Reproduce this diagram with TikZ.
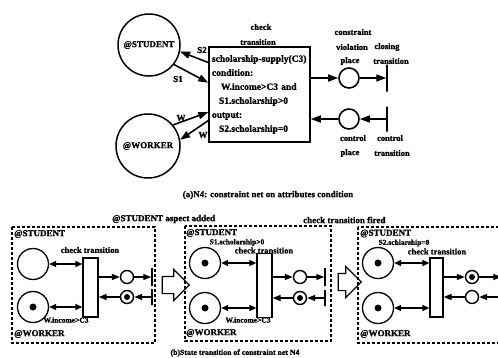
\documentclass[tikz,border=0pt]{standalone}
\usepackage{fontspec}
\setmainfont{Liberation Serif}[BoldFeatures={FakeBold=1.2}]
\usetikzlibrary{shapes,arrows,arrows.meta}

\begin{document}
\begin{tikzpicture}[x=1pt, y=-1pt,
    every node/.style={font=\bfseries},
    netplace/.style={draw, circle, line width=1.5pt, inner sep=0pt},
    bigplace/.style={netplace, minimum size=62pt, font=\bfseries\fontsize{9}{10}\selectfont},
    midplace/.style={netplace, line width=1.3pt, minimum size=31pt},
    smallplace/.style={netplace, line width=1.4pt, minimum size=13pt},
    token/.style={circle, fill=black, minimum size=7pt, inner sep=0pt},
    smalltoken/.style={circle, fill=black, minimum size=6pt, inner sep=0pt},
    trans/.style={draw, rectangle, line width=1.3pt, minimum width=15pt, inner sep=0pt},
    bar/.style={draw, rectangle, line width=1.5pt, minimum width=0pt, inner sep=0pt},
    txt/.style={inner sep=0pt, font=\bfseries\fontsize{8.5}{9}\selectfont},
    smalltxt/.style={inner sep=0pt, font=\bfseries\fontsize{7.5}{8}\selectfont},
    nametxt/.style={inner sep=0pt, anchor=west, font=\bfseries\fontsize{9}{10}\selectfont},
    flow/.style={-{Triangle[length=10pt,width=7pt]}, line width=1.6pt},
    sflow/.style={-{Triangle[length=8pt,width=6pt]}, line width=1.4pt},
    dflow/.style={{Triangle[length=7pt,width=6pt]}-{Triangle[length=7pt,width=6pt]}, line width=1.3pt},
    panel/.style={draw, densely dashed, line width=1.2pt},
    blockarrow/.style={single arrow, draw, line width=1.2pt, inner xsep=0pt, inner ysep=8pt, single arrow head extend=7pt}
]
\useasboundingbox (0,0) rectangle (498,357);
\clip (0,0) rectangle (498,357);

% (a) constraint net
\node[bigplace] (student) at (149,45) {@STUDENT};
\node[bigplace, minimum size=64pt] (worker) at (148,146) {@WORKER};
\node[draw, line width=1.5pt, minimum width=101pt, minimum height=95pt, text width=95pt,
      inner xsep=3pt, align=left, font=\bfseries\fontsize{9.5}{14}\selectfont] (check) at (259.5,94.5)
  {scholarship-supply(C3)\\condition:\\\hspace*{9pt}W.income>C3 and\\\hspace*{7pt}S1.scholarship>0\\output:\\\hspace*{7pt}S2.scholarship=0};
\node[netplace, line width=1.6pt, minimum size=20pt] (viol) at (349,78) {};
\node[netplace, line width=1.6pt, minimum size=20pt] (ctrl) at (349,119) {};
\node[bar, minimum height=27pt] (close) at (387,78) {};
\node[bar, minimum height=25pt] (ctrlt) at (387,119) {};

% labels of (a)
\node[txt] (lblcheck) at (261,27) {check};
\node[txt] (lbltrans) at (258,42) {transition};
\node[txt] (lblcons) at (353,32) {constraint};
\node[txt] (lblviol) at (352,47) {violation};
\node[txt] (lblplace) at (350,61) {place};
\node[txt] (lblclose) at (387,47) {closing};
\node[txt] (lblcloset) at (391,61) {transition};
\node[txt] (lblctrl) at (353,138) {control};
\node[txt] (lblctrlp) at (350,153) {place};
\node[txt] (lblctrlt) at (390,138) {control};
\node[txt] (lblctrltt) at (392,153) {transition};
\node[txt, font=\bfseries\fontsize{9}{10}\selectfont] (lbls2) at (202,50) {S2};
\node[txt, font=\bfseries\fontsize{9}{10}\selectfont] (lbls1) at (178,79) {S1};
\node[txt, font=\bfseries\fontsize{9}{10}\selectfont] (lblw1) at (181,118) {W};
\node[txt, font=\bfseries\fontsize{9}{10}\selectfont] (lblw2) at (203,135) {W};
\node[txt, font=\bfseries\fontsize{9}{10}\selectfont] (capa) at (268,195) {(a)N4: constraint net on attributes condition};

% arcs of (a)
\draw[flow] (check.148) -- (student.-12);
\draw[flow] (student.-38) -- (check.167);
\draw[flow] (worker.40) -- (check.199);
\draw[flow] (check.207) -- (worker.11);
\draw[flow] (check.east |- viol) -- (viol);
\draw[flow] (viol) -- (close);
\draw[flow] (ctrlt) -- (ctrl);
\draw[flow] (ctrl) -- (check.east |- ctrl);

% (b) state transition
\node[nametxt] (lbladded) at (112,219) {@STUDENT aspect added};
\node[nametxt] (lblfired) at (303,220) {check transition fired};
\draw[panel] (12,227) rectangle (155,343);
\draw[panel] (185,226) rectangle (331,341);
\draw[panel] (358,227) rectangle (510,343);
\node[blockarrow, minimum height=27pt] (stepab) at (171.5,285) {};
\node[blockarrow, minimum height=23pt] (stepbc) at (345.5,282) {};

% first state
\node[midplace] (sa) at (33,264) {};
\node[midplace] (wa) at (33,307) {};
\node[token] (wtoka) at (wa) {};
\node[trans, minimum height=59pt] (ta) at (90.5,287.5) {};
\node[smallplace] (va) at (127,277) {};
\node[smallplace] (ca) at (127,297) {};
\node[smalltoken] (ctoka) at (ca) {};
\node[bar, minimum height=18pt] (vba) at (152,277) {};
\node[bar, minimum height=16pt] (cba) at (152,297) {};
\node[nametxt] (stua) at (14,234) {@STUDENT};
\node[nametxt] (wora) at (14,334) {@WORKER};
\node[txt] (chka) at (90,250) {check transition};
\node[smalltxt] (inca) at (66,320) {W.income>C3};
\draw[dflow] (sa) -- (ta.west |- sa);
\draw[dflow] (wa) -- (ta.west |- wa);
\draw[sflow] (ta.east |- va) -- (va);
\draw[sflow] (va) -- (vba);
\draw[sflow] (cba) -- (ca);
\draw[sflow] (ca) -- (ta.east |- ca);

% second state
\node[midplace] (sb) at (205,263) {};
\node[token] (stokb) at (sb) {};
\node[midplace] (wb) at (205,308) {};
\node[token] (wtokb) at (wb) {};
\node[trans, minimum height=64pt] (tb) at (264.5,285.5) {};
\node[smallplace] (vb) at (300,277) {};
\node[smallplace] (cb) at (300,298) {};
\node[smalltoken] (ctokb) at (cb) {};
\node[bar, minimum height=18pt] (vbb) at (325,277) {};
\node[bar, minimum height=16pt] (cbb) at (325,298) {};
\node[nametxt] (stub) at (186,233) {@STUDENT};
\node[nametxt] (worb) at (186,333) {@WORKER};
\node[smalltxt] (schb) at (237,242.5) {S1.scholarship>0};
\node[txt] (chkb) at (264,250.5) {check transition};
\node[smalltxt] (incb) at (248,320) {W.income>C3};
\draw[dflow] (sb) -- (tb.west |- sb);
\draw[dflow] (wb) -- (tb.west |- wb);
\draw[sflow] (tb.east |- vb) -- (vb);
\draw[sflow] (vb) -- (vbb);
\draw[sflow] (cbb) -- (cb);
\draw[sflow] (cb) -- (tb.east |- cb);

% third state
\node[midplace] (sc) at (378,263) {};
\node[token] (stokc) at (sc) {};
\node[midplace] (wc) at (378,308) {};
\node[token] (wtokc) at (wc) {};
\node[trans, minimum width=13pt, minimum height=59pt] (tc) at (436.5,287.5) {};
\node[smallplace] (vc) at (472,277) {};
\node[smalltoken] (vtokc) at (vc) {};
\node[smallplace] (cc) at (472,297) {};
\node[bar, minimum height=18pt] (vbc) at (502,277) {};
\node[bar, minimum height=16pt] (cbc) at (502,297) {};
\node[nametxt] (stuc) at (360,233.5) {@STUDENT};
\node[nametxt] (worc) at (360,334) {@WORKER};
\node[smalltxt] (schc) at (404,243) {S2.schlarship=0};
\node[txt] (chkc) at (437,251.5) {check transition};
\draw[dflow] (sc) -- (tc.west |- sc);
\draw[dflow] (wc) -- (tc.west |- wc);
\draw[sflow] (tc.east |- vc) -- (vc);
\draw[sflow] (vc) -- (vbc);
\draw[sflow] (cbc) -- (cc);
\draw[sflow] (cc) -- (tc.east |- cc);

\node[smalltxt, font=\bfseries\fontsize{7.8}{9}\selectfont] (capb) at (235,353) {(b)State transition of constraint net N4};
\end{tikzpicture}
\end{document}
